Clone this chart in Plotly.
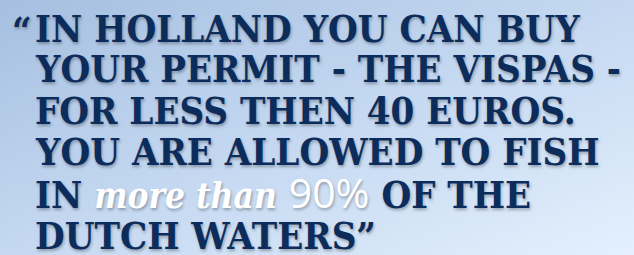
import plotly.graph_objects as go
import base64

W, H = 634, 255

lines = [
    "IN HOLLAND YOU CAN BUY",
    "YOUR PERMIT - THE VISPAS -",
    "FOR LESS THEN 40 EUROS.",
    "YOU ARE ALLOWED TO FISH",
    "IN {script} {pct} OF THE",
    "DUTCH WATERS\u201d",
]
script_words = "more than"
pct_text = "90%"
open_quote = "\u201c"
line_y_px = [28, 69, 110, 151, 192, 235]

navy = "#0c2c5c"
shadow = "1px 2px 3px rgba(0,0,0,0.3)"

svg = ('<svg xmlns="http://www.w3.org/2000/svg" width="634" height="255">'
       '<defs><linearGradient id="g" x1="0" y1="0" x2="1" y2="1">'
       '<stop offset="0" stop-color="#a6bfe0"/><stop offset="0.5" stop-color="#c4d8f1"/>'
       '<stop offset="1" stop-color="#e4f0fd"/></linearGradient></defs>'
       '<rect width="634" height="255" fill="url(#g)"/></svg>')
bg_src = "data:image/svg+xml;base64," + base64.b64encode(svg.encode()).decode()

fig = go.Figure()
fig.add_layout_image(source=bg_src, xref="paper", yref="paper", x=0, y=1,
                     sizex=1, sizey=1, sizing="stretch", xanchor="left", yanchor="top",
                     layer="below")

font_main = dict(family="DejaVu Serif Condensed, DejaVu Serif", size=38, color=navy,
                 weight="bold", shadow=shadow)

for txt, ypx in zip(lines, line_y_px):
    if "{script}" in txt:
        txt = txt.replace("{script}",
            f'<span style="font-family:\'DejaVu Serif Condensed\';font-style:italic;font-weight:600;color:white;font-size:35px">{script_words}</span>')
        txt = txt.replace("{pct}",
            f'<span style="font-family:\'Open Sans\';font-weight:normal;color:white;font-size:41px">{pct_text}</span>')
    fig.add_annotation(text=txt, x=33 / W, y=1 - ypx / H, xref="paper", yref="paper",
                       xanchor="left", yanchor="middle", showarrow=False, font=font_main)

fig.add_annotation(text=open_quote, x=10 / W, y=1 - 30 / H, xref="paper", yref="paper",
                   xanchor="left", yanchor="middle", showarrow=False, font=font_main)

fig.update_layout(
    width=W, height=H, margin=dict(l=0, r=0, t=0, b=0),
    xaxis=dict(visible=False, range=[0, 1], fixedrange=True),
    yaxis=dict(visible=False, range=[0, 1], fixedrange=True),
    plot_bgcolor="rgba(0,0,0,0)", paper_bgcolor="#c4d8f1",
)
fig.write_html("out.html", config={"displayModeBar": False},
               post_script="document.body.style.margin='0';document.body.style.overflow='hidden';")
